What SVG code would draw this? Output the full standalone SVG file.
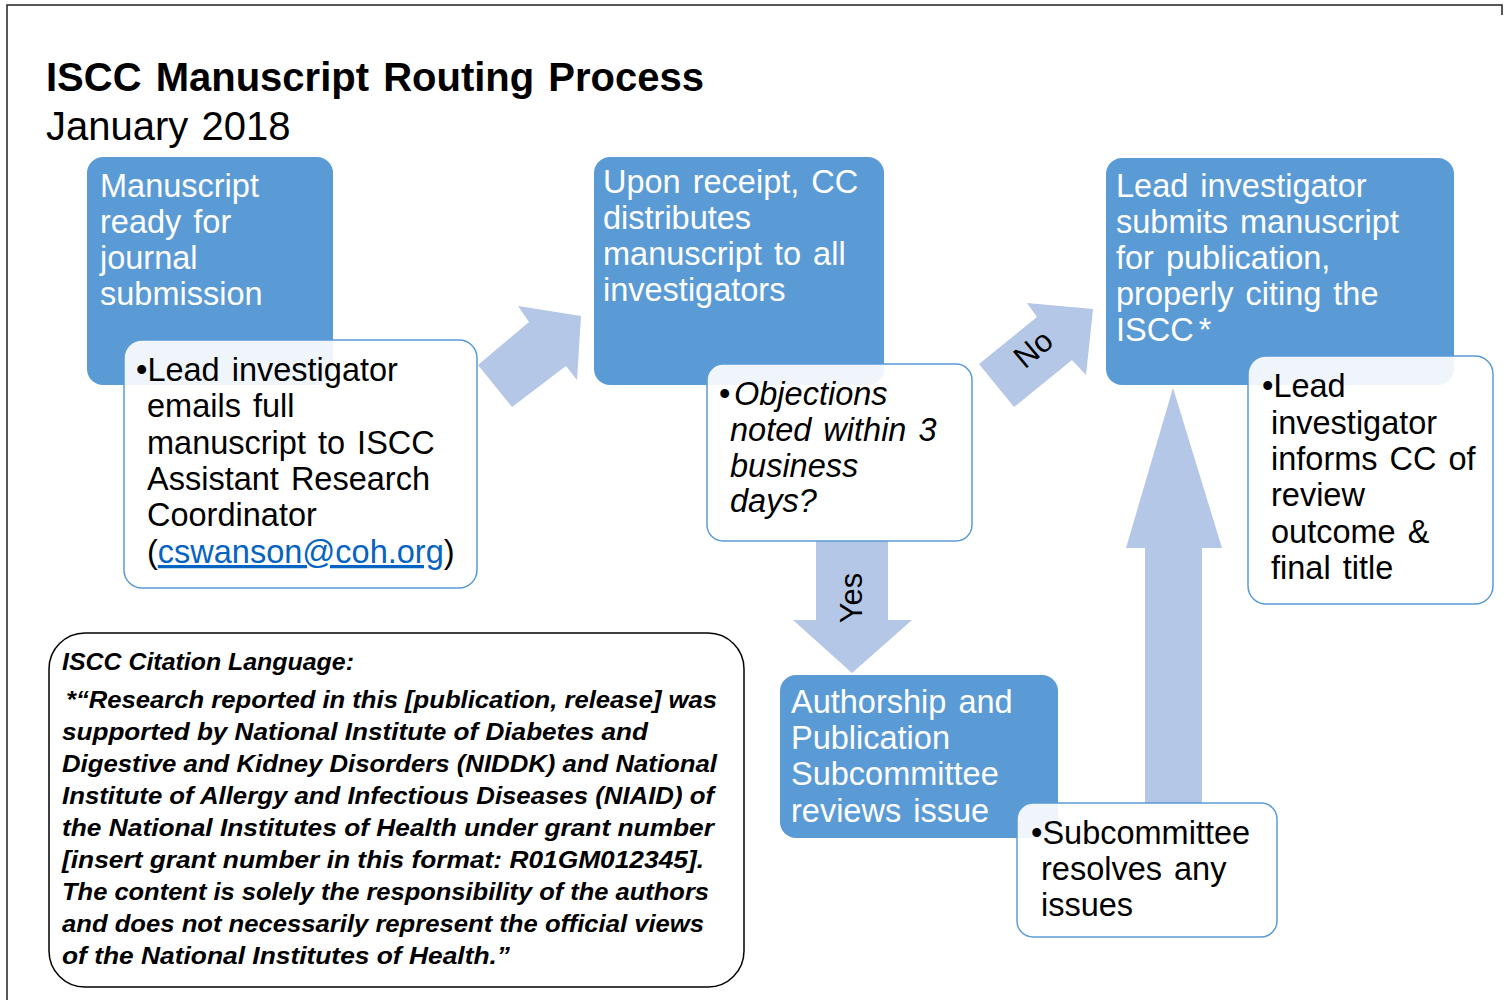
<svg xmlns="http://www.w3.org/2000/svg" width="1506" height="1000" viewBox="0 0 1506 1000">
<style>
.main{fill:#5B9BD5;}
.sub{fill:#FFFFFF;fill-opacity:0.9;stroke:#5B9BD5;stroke-width:1.5;}
.arrow{fill:#B4C7E7;}
.wt{font-family:"Liberation Sans",Arial,sans-serif;font-size:32.5px;word-spacing:3px;fill:#FFFFFF;}
.bt{font-family:"Liberation Sans",Arial,sans-serif;font-size:32.5px;word-spacing:3px;fill:#000000;}
.cite{font-family:"Liberation Sans",Arial,sans-serif;font-size:23px;font-weight:bold;font-style:italic;fill:#000000;}
</style>
<rect width="1506" height="1000" fill="#FFFFFF"/>
<path d="M7,1000 L7,5 L1502,5 L1502,15" fill="none" stroke="#222222" stroke-width="1.5"/>
<g id="title">
<text x="46" y="91" style="font-family:'Liberation Sans',Arial,sans-serif;font-size:40px;font-weight:bold;word-spacing:3px;fill:#000">ISCC Manuscript Routing Process</text>
<text x="46" y="140" style="font-family:'Liberation Sans',Arial,sans-serif;font-size:40px;word-spacing:2px;fill:#000">January 2018</text>
</g>
<g id="connectors">
<polygon class="arrow" points="478,365 529,322 518,306 581,316 577,380 566,366 512,407"/>
<polygon class="arrow" points="979,364 1037,317 1027,303 1093,309 1086,375 1072,360 1014,407"/>
<text transform="translate(1040,357) rotate(-40)" text-anchor="middle" style="font-family:'Liberation Sans',Arial,sans-serif;font-size:31px;fill:#000">No</text>
<polygon class="arrow" points="816,541 888,541 888,620 912,620 852,673 793,620 816,620"/>
<text transform="translate(862,598) rotate(-90)" text-anchor="middle" style="font-family:'Liberation Sans',Arial,sans-serif;font-size:31px;fill:#000">Yes</text>
<polygon class="arrow" points="1145,804 1145,548 1126,548 1173,388 1222,548 1202,548 1202,804"/>
</g>
<g id="node1">
<rect class="main" x="87" y="157" width="246" height="228" rx="16"/>
<text class="wt" x="100" y="197">Manuscript</text>
<text class="wt" x="100" y="233">ready for</text>
<text class="wt" x="100" y="269">journal</text>
<text class="wt" x="100" y="305">submission</text>
</g>
<g id="node1-detail">
<rect class="sub" x="124" y="340" width="353" height="248" rx="18"/>
<text class="bt" x="136" y="381">•Lead investigator</text>
<text class="bt" x="147" y="417">emails full</text>
<text class="bt" x="147" y="454">manuscript to ISCC</text>
<text class="bt" x="147" y="490">Assistant Research</text>
<text class="bt" x="147" y="526">Coordinator</text>
<text class="bt" x="147" y="563">(<tspan fill="#0563C1" text-decoration="underline">cswanson@coh.org</tspan>)</text>
</g>
<g id="node2">
<rect class="main" x="594" y="157" width="290" height="228" rx="16"/>
<text class="wt" x="603" y="193">Upon receipt, CC</text>
<text class="wt" x="603" y="229">distributes</text>
<text class="wt" x="603" y="265">manuscript to all</text>
<text class="wt" x="603" y="301">investigators</text>
</g>
<g id="node2-detail">
<rect class="sub" x="707" y="364" width="265" height="177" rx="16"/>
<text class="bt" x="719" y="405">•</text>
<text class="bt" x="734" y="405" font-style="italic">Objections</text>
<text class="bt" x="730" y="441" font-style="italic">noted within 3</text>
<text class="bt" x="730" y="477" font-style="italic">business</text>
<text class="bt" x="730" y="512" font-style="italic">days?</text>
</g>
<g id="node3">
<rect class="main" x="1106" y="158" width="348" height="227" rx="16"/>
<text class="wt" x="1116" y="197">Lead investigator</text>
<text class="wt" x="1116" y="233">submits manuscript</text>
<text class="wt" x="1116" y="269">for publication,</text>
<text class="wt" x="1116" y="305">properly citing the</text>
<text class="wt" x="1116" y="341">ISCC<tspan dx="5">*</tspan></text>
</g>
<g id="node3-detail">
<rect class="sub" x="1248" y="356" width="245" height="248" rx="18"/>
<text class="bt" x="1262" y="397">•Lead</text>
<text class="bt" x="1271" y="434">investigator</text>
<text class="bt" x="1271" y="470">informs CC of</text>
<text class="bt" x="1271" y="506">review</text>
<text class="bt" x="1271" y="543">outcome &amp;</text>
<text class="bt" x="1271" y="579">final title</text>
</g>
<g id="node4">
<rect class="main" x="780" y="675" width="278" height="163" rx="16"/>
<text class="wt" x="791" y="713">Authorship and</text>
<text class="wt" x="791" y="749">Publication</text>
<text class="wt" x="791" y="785">Subcommittee</text>
<text class="wt" x="791" y="822">reviews issue</text>
</g>
<g id="node4-detail">
<rect class="sub" x="1017" y="803" width="260" height="134" rx="16"/>
<text class="bt" x="1031" y="844">•Subcommittee</text>
<text class="bt" x="1041" y="880">resolves any</text>
<text class="bt" x="1041" y="916">issues</text>
</g>
<g id="citation">
<rect x="49" y="633" width="695" height="354" rx="36" fill="#FFFFFF" stroke="#000000" stroke-width="1.5"/>
<text class="cite" x="62" y="670" textLength="292" lengthAdjust="spacingAndGlyphs">ISCC Citation Language:</text>
<text class="cite" x="66" y="708" textLength="651" lengthAdjust="spacingAndGlyphs">*“Research reported in this [publication, release] was</text>
<text class="cite" x="62" y="740" textLength="586" lengthAdjust="spacingAndGlyphs">supported by National Institute of Diabetes and</text>
<text class="cite" x="62" y="772" textLength="655" lengthAdjust="spacingAndGlyphs">Digestive and Kidney Disorders (NIDDK) and National</text>
<text class="cite" x="62" y="804" textLength="652" lengthAdjust="spacingAndGlyphs">Institute of Allergy and Infectious Diseases (NIAID) of</text>
<text class="cite" x="62" y="836" textLength="652" lengthAdjust="spacingAndGlyphs">the National Institutes of Health under grant number</text>
<text class="cite" x="62" y="868" textLength="642" lengthAdjust="spacingAndGlyphs">[insert grant number in this format: R01GM012345].</text>
<text class="cite" x="62" y="900" textLength="647" lengthAdjust="spacingAndGlyphs">The content is solely the responsibility of the authors</text>
<text class="cite" x="62" y="932" textLength="642" lengthAdjust="spacingAndGlyphs">and does not necessarily represent the official views</text>
<text class="cite" x="62" y="964" textLength="448" lengthAdjust="spacingAndGlyphs">of the National Institutes of Health.”</text>
</g>
</svg>
